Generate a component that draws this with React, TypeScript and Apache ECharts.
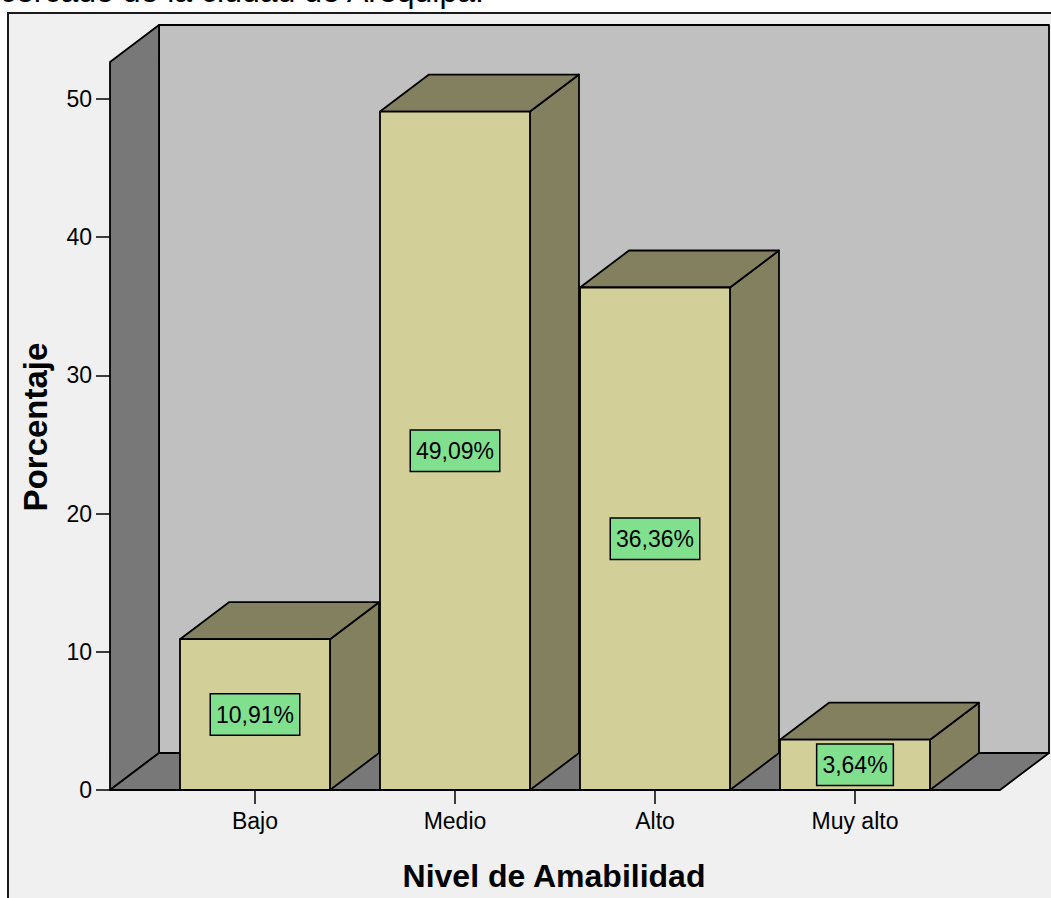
import React, { useEffect, useRef } from "react";
import * as echarts from "echarts";

const categories = ["Bajo", "Medio", "Alto", "Muy alto"];
const percentages = [10.91, 49.09, 36.36, 3.64];
const percentLabels = ["10,91%", "49,09%", "36,36%", "3,64%"];
const yMin = 0;
const yMax = 50;
const yInterval = 10;
const topText = "cercado de la ciudad de Arequipa.";
const xTitle = "Nivel de Amabilidad";
const yTitle = "Porcentaje";

// 3D look constants (style only)
const DX = 49;
const DY = -37;
const PAD = 45;
const WALL_EXTRA = 37;
const FONT = '"Liberation Sans", Arial, sans-serif';

export default function App() {
  const ref = useRef<HTMLDivElement>(null);

  useEffect(() => {
    document.body.style.margin = "0";
    document.body.style.overflow = "hidden";
    const chart = echarts.init(ref.current as HTMLDivElement, undefined, { renderer: "svg" });
    const edge = { stroke: "#000", lineWidth: 1.8, lineJoin: "round" };

    const option: any = {
      animation: false,
      backgroundColor: "#ffffff",
      graphic: [
        {
          type: "rect",
          z: -10,
          shape: { x: 8, y: 13, width: 1200, height: 1000 },
          style: { fill: "#f0f0f0", stroke: "#1a1a1a", lineWidth: 2 },
        },
        {
          type: "text",
          x: 0,
          y: -9,
          style: {
            text: topText,
            fill: "#000",
            fontSize: 32,
            fontFamily: FONT,
            align: "left",
            verticalAlign: "middle",
          },
        },
        {
          type: "text",
          x: 35,
          y: 427,
          rotation: Math.PI / 2,
          style: {
            text: yTitle,
            fill: "#000",
            fontSize: 33,
            fontWeight: "bold",
            fontFamily: FONT,
            align: "center",
            verticalAlign: "middle",
          },
        },
        {
          type: "text",
          x: 554,
          y: 876,
          style: {
            text: xTitle,
            fill: "#000",
            fontSize: 32,
            fontWeight: "bold",
            fontFamily: FONT,
            align: "center",
            verticalAlign: "middle",
          },
        },
      ],
      grid: { left: 155, right: 96, top: 99, bottom: 108, containLabel: false },
      xAxis: {
        type: "category",
        data: categories,
        boundaryGap: true,
        axisLine: { show: false },
        axisTick: { show: true, alignWithLabel: true, length: 14, lineStyle: { color: "#000", width: 1.5 } },
        axisLabel: { color: "#000", fontSize: 23, fontFamily: FONT, margin: 19 },
        splitLine: { show: false },
      },
      yAxis: {
        type: "value",
        min: yMin,
        max: yMax,
        interval: yInterval,
        offset: PAD,
        axisLine: { show: false },
        axisTick: { show: true, length: 14, lineStyle: { color: "#000", width: 1.5 } },
        axisLabel: { color: "#000", fontSize: 23, fontFamily: FONT, margin: 18 },
        splitLine: { show: false },
      },
      series: [
        {
          type: "custom",
          z: 1,
          silent: true,
          data: [[0, 0]],
          renderItem: (params: any) => {
            const cs = params.coordSys;
            const x0 = cs.x - PAD;
            const x1 = cs.x + cs.width + PAD;
            const yb = cs.y + cs.height;
            const yt = cs.y - WALL_EXTRA;
            return {
              type: "group",
              children: [
                {
                  type: "polygon",
                  shape: { points: [[x0 + DX, yt + DY], [x1 + DX, yt + DY], [x1 + DX, yb + DY], [x0 + DX, yb + DY]] },
                  style: { fill: "#c0c0c0", ...edge },
                },
                {
                  type: "polygon",
                  shape: { points: [[x0, yt], [x0 + DX, yt + DY], [x0 + DX, yb + DY], [x0, yb]] },
                  style: { fill: "#787878", ...edge },
                },
                {
                  type: "polygon",
                  shape: { points: [[x0, yb], [x0 + DX, yb + DY], [x1 + DX, yb + DY], [x1, yb]] },
                  style: { fill: "#787878", ...edge },
                },
              ],
            };
          },
        },
        {
          type: "custom",
          z: 3,
          data: categories.map((c, i) => [i, percentages[i]]),
          renderItem: (params: any, api: any) => {
            const idx = api.value(0);
            const v = api.value(1);
            const top = api.coord([idx, v]);
            const base = api.coord([idx, 0]);
            const w = api.size([1, 0])[0] * 0.75;
            const cx = top[0];
            const ty = top[1];
            const by = base[1];
            const xl = cx - w / 2;
            const xr = cx + w / 2;
            return {
              type: "group",
              children: [
                {
                  type: "polygon",
                  shape: { points: [[xr, ty], [xr + DX, ty + DY], [xr + DX, by + DY], [xr, by]] },
                  style: { fill: "#838060", ...edge },
                },
                {
                  type: "polygon",
                  shape: { points: [[xl, ty], [xl + DX, ty + DY], [xr + DX, ty + DY], [xr, ty]] },
                  style: { fill: "#838060", ...edge },
                },
                {
                  type: "rect",
                  shape: { x: xl, y: ty, width: w, height: by - ty },
                  style: { fill: "#d3cf99", ...edge },
                },
                {
                  type: "text",
                  x: cx,
                  y: (ty + by) / 2,
                  style: {
                    text: percentLabels[params.dataIndex],
                    fill: "#000",
                    fontSize: 23,
                    fontFamily: FONT,
                    align: "center",
                    verticalAlign: "middle",
                    backgroundColor: "#80e08e",
                    borderColor: "#000",
                    borderWidth: 1.5,
                    padding: [9, 5, 8, 5],
                  },
                },
              ],
            };
          },
        },
      ],
    };

    chart.setOption(option);
    return () => chart.dispose();
  }, []);

  return <div ref={ref} style={{ width: 1051, height: 898 }} />;
}
